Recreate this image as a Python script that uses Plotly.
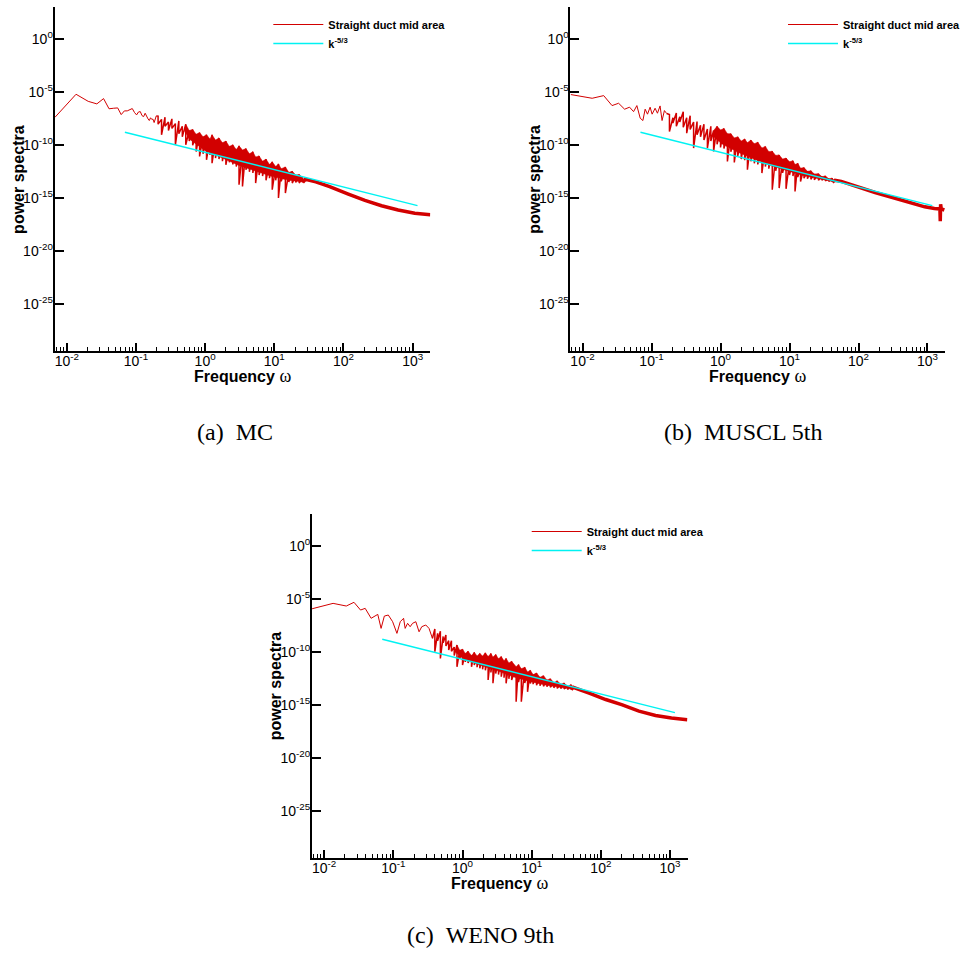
import plotly.graph_objects as go

# ---------------- axis ticks ----------------
freq_tick_vals = [1e-2, 1e-1, 1e0, 1e1, 1e2, 1e3]
freq_tick_text = ["10<sup>-2</sup>", "10<sup>-1</sup>", "10<sup>0</sup>",
                  "10<sup>1</sup>", "10<sup>2</sup>", "10<sup>3</sup>"]
power_tick_vals = [1e0, 1e-5, 1e-10, 1e-15, 1e-20, 1e-25]
power_tick_text = ["10<sup>0</sup>", "10<sup>-5</sup>", "10<sup>-10</sup>",
                   "10<sup>-15</sup>", "10<sup>-20</sup>", "10<sup>-25</sup>"]

series_name = "Straight duct mid area"
reference_name = "k<sup>-5/3</sup>"
x_title = '<b>Frequency</b> <span style="font-family:Liberation Serif;font-size:18px">ω</span>'
y_title = "<b>power spectra</b>"
captions = ["(a)\u2002MC", "(b)\u2002MUSCL 5th", "(c)\u2002WENO 9th"]

# k^-5/3 reference line (log10 of frequency / power at its two ends)
kolmogorov_log_freq = [-1.16, 3.07]
kolmogorov_log_power = [-8.76, -15.68]

# ---------------- (a) MC : log10 values ----------------
mc_head_log_freq = [-2.17, -1.866, -1.69, -1.565, -1.468, -1.389, -1.322, -1.264, -1.213, -1.167,
                    -1.126, -1.088, -1.053, -1.021, -0.991, -0.963, -0.937, -0.912, -0.889, -0.867,
                    -0.846, -0.826, -0.807, -0.789, -0.771, -0.754, -0.737, -0.721, -0.706]
mc_head_log_power = [-7.35, -5.18, -5.85, -6.09, -5.59, -6.55, -6.5, -6.47, -7.1, -6.75,
                     -6.75, -6.6, -6.53, -6.9, -7.13, -6.85, -6.82, -7.2, -7.29, -6.97,
                     -7.3, -7.5, -7.66, -7.4, -7.55, -7.53, -7.85, -7.5, -7.22]
mc_band_log_freq = [-0.68, -0.63, -0.58, -0.53, -0.48, -0.43, -0.38, -0.33, -0.28, -0.23,
                    -0.18, -0.13, -0.08, -0.03, 0.02, 0.07, 0.10, 0.15, 0.20, 0.25,
                    0.30, 0.35, 0.40, 0.45, 0.49, 0.54, 0.59, 0.64, 0.69, 0.73,
                    0.78, 0.83, 0.88, 0.93, 0.97, 1.02, 1.06, 1.10, 1.16, 1.21,
                    1.26, 1.31, 1.36, 1.41]
mc_band_log_high = [-7.25, -7.55, -7.35, -7.8, -7.5, -7.95, -7.7, -8.2, -8.0, -8.6,
                    -8.5, -8.95, -8.8, -9.2, -9.0, -9.4, -9.0, -9.5, -9.3, -9.75,
                    -9.6, -10.1, -9.95, -10.4, -10.05, -10.45, -10.3, -10.8, -10.6, -11.1,
                    -11.0, -11.5, -11.3, -11.8, -11.55, -12.0, -11.75, -12.2, -12.05, -12.55,
                    -12.45, -12.8, -12.75, -13.05]
mc_band_log_low = [-8.0, -9.0, -8.2, -8.6, -8.4, -9.95, -8.9, -9.2, -9.95, -9.6,
                   -10.0, -10.58, -11.05, -10.8, -11.37, -10.9, -11.68, -11.2, -11.3, -11.5,
                   -11.84, -11.6, -11.8, -12.0, -13.72, -13.88, -12.3, -12.5, -12.6, -13.56,
                   -12.8, -12.9, -13.3, -13.1, -14.19, -13.3, -14.97, -13.4, -14.5, -13.45,
                   -13.56, -13.5, -13.55, -13.5]
mc_core_log_freq = [-0.3, -0.23, 0.0, 0.25, 0.49, 0.73, 0.97, 1.21, 1.41]
mc_core_log_low = [-8.6, -9.4, -10.5, -11.2, -11.9, -12.45, -12.95, -13.3, -13.45]
mc_tail_log_freq = [1.45, 1.6, 1.8, 2.07, 2.31, 2.55, 2.79, 3.03, 3.255]
mc_tail_log_power = [-13.2, -13.45, -13.9, -14.6, -15.2, -15.7, -16.1, -16.4, -16.55]

# ---------------- (b) MUSCL 5th ----------------
muscl_head_log_freq = [-2.17, -1.86, -1.693, -1.572, -1.477, -1.39, -1.318, -1.26, -1.212, -1.164,
                       -1.125, -1.092, -1.058, -1.02, -0.991, -0.948, -0.914, -0.876, -0.847, -0.813,
                       -0.78]
muscl_head_log_power = [-5.21, -5.56, -5.31, -6.25, -6.03, -6.59, -6.4, -6.82, -6.25, -7.44,
                        -7.66, -6.59, -7.06, -6.4, -7.06, -6.5, -6.97, -6.28, -7.66, -6.72,
                        -7.0]
muscl_band_log_freq = [-0.74, -0.69, -0.64, -0.59, -0.54, -0.49, -0.44, -0.39, -0.34, -0.29,
                       -0.24, -0.19, -0.14, -0.10, -0.05, 0.0, 0.05, 0.10, 0.15, 0.20,
                       0.25, 0.30, 0.35, 0.39, 0.44, 0.49, 0.54, 0.60, 0.65, 0.70,
                       0.75, 0.80, 0.85, 0.90, 0.95, 1.00, 1.05, 1.08, 1.12, 1.16,
                       1.21, 1.26, 1.31, 1.36, 1.42, 1.47, 1.52, 1.57, 1.62]
muscl_band_log_high = [-7.1, -7.4, -6.95, -7.3, -6.82, -7.4, -7.2, -7.8, -7.76, -8.1,
                       -8.0, -8.45, -8.2, -8.6, -8.2, -8.55, -8.4, -8.9, -8.9, -9.3,
                       -9.2, -9.6, -9.4, -9.75, -9.5, -9.85, -9.7, -10.25, -10.1, -10.6,
                       -10.55, -10.95, -10.9, -11.3, -11.2, -11.55, -11.45, -11.8, -11.7, -12.15,
                       -12.1, -12.45, -12.4, -12.7, -12.68, -12.95, -12.9, -13.15, -13.1]
muscl_band_log_low = [-8.7, -7.9, -8.2, -7.8, -8.3, -8.85, -8.5, -10.26, -9.0, -9.2,
                      -9.5, -10.26, -9.6, -10.58, -9.9, -10.2, -10.3, -11.52, -10.6, -11.62,
                      -11.0, -11.3, -11.4, -12.3, -11.5, -11.7, -11.8, -12.62, -12.0, -12.2,
                      -14.19, -12.4, -14.03, -12.6, -14.1, -12.8, -12.9, -14.35, -13.0, -13.41,
                      -13.1, -13.15, -13.2, -13.25, -13.3, -13.3, -13.35, -13.4, -13.45]
muscl_core_log_freq = [-0.1, 0.03, 0.27, 0.51, 0.75, 0.99, 1.23, 1.47, 1.62]
muscl_core_log_low = [-9.2, -9.9, -10.7, -11.35, -11.95, -12.45, -12.9, -13.2, -13.4]
muscl_tail_log_freq = [1.66, 1.75, 2.0, 2.24, 2.48, 2.72, 2.96, 3.1, 3.18, 3.185, 3.19, 3.2, 3.244]
muscl_tail_log_power = [-13.3, -13.4, -13.95, -14.45, -14.9, -15.35, -15.8, -15.95, -16.0,
                        -17.15, -15.55, -16.0, -16.1]

# ---------------- (c) WENO 9th ----------------
weno_head_log_freq = [-2.175, -1.871, -1.68, -1.569, -1.474, -1.407, -1.321, -1.225, -1.177, -1.13,
                      -1.073, -1.01, -0.948, -0.9, -0.852, -0.829, -0.794, -0.757, -0.722, -0.675,
                      -0.628, -0.589, -0.531, -0.484, -0.435]
weno_head_log_power = [-5.89, -5.38, -5.63, -5.28, -6.01, -5.85, -6.79, -6.42, -7.74, -6.58,
                       -6.48, -7.11, -8.21, -7.11, -6.79, -7.74, -7.26, -7.58, -7.26, -7.11,
                       -8.06, -7.58, -7.42, -7.74, -8.68]
weno_band_log_freq = [-0.40, -0.36, -0.32, -0.28, -0.24, -0.20, -0.16, -0.12, -0.08, -0.04,
                      0.00, 0.04, 0.08, 0.13, 0.17, 0.21, 0.25, 0.29, 0.33, 0.37,
                      0.41, 0.44, 0.48, 0.52, 0.56, 0.60, 0.63, 0.67, 0.71, 0.775,
                      0.81, 0.85, 0.90, 0.94, 0.98, 1.02, 1.07, 1.12, 1.17, 1.22,
                      1.27, 1.32, 1.37, 1.42, 1.47, 1.52, 1.57]
weno_band_log_high = [-7.8, -8.2, -8.0, -8.5, -8.37, -8.9, -8.9, -9.5, -9.31, -9.8,
                      -9.7, -10.1, -9.9, -10.3, -10.0, -10.35, -10.1, -10.35, -10.05, -10.4,
                      -10.1, -10.45, -10.2, -10.6, -10.4, -10.8, -10.57, -11.0, -10.85, -11.35,
                      -11.15, -11.55, -11.4, -11.85, -11.7, -12.1, -11.95, -12.35, -12.2, -12.6,
                      -12.5, -12.85, -12.7, -13.0, -12.9, -13.2, -13.05]
weno_band_log_low = [-9.94, -8.9, -10.57, -9.1, -9.4, -9.78, -9.9, -10.3, -11.36, -10.6,
                     -11.2, -10.9, -11.0, -11.36, -11.2, -11.4, -11.5, -11.6, -11.7, -12.61,
                     -11.9, -12.92, -12.0, -12.1, -12.3, -12.4, -12.92, -12.5, -12.6, -14.66,
                     -12.8, -14.66, -12.9, -13.72, -12.95, -13.0, -13.1, -13.15, -13.2, -13.25,
                     -13.3, -13.35, -13.4, -13.42, -13.45, -13.5, -13.52]
weno_core_log_freq = [-0.1, 0.01, 0.25, 0.49, 0.73, 0.97, 1.21, 1.45, 1.57]
weno_core_log_low = [-10.0, -10.6, -11.2, -11.7, -12.3, -12.75, -13.1, -13.35, -13.45]
weno_tail_log_freq = [1.6, 1.83, 2.07, 2.31, 2.55, 2.79, 3.02, 3.248]
weno_tail_log_power = [-13.3, -13.85, -14.45, -14.95, -15.55, -15.95, -16.2, -16.35]

# ---------------- styling / layout constants ----------------
RED = "#d20000"
CYAN = "#00f2f2"
FONT = "Liberation Sans, Arial, Helvetica, sans-serif"
SERIF = "Liberation Serif, Times New Roman, serif"
W, H = 966, 954


def px_x(p):
    return p / W


def px_y(p):
    return 1 - p / H


panels = [
    dict(head=(mc_head_log_freq, mc_head_log_power),
         band=(mc_band_log_freq, mc_band_log_high, mc_band_log_low),
         core=(mc_core_log_freq, mc_core_log_low),
         tail=(mc_tail_log_freq, mc_tail_log_power),
         xdom=(55, 433), ydom=(7, 351), leg=(270, 10), cap=(236, 432)),
    dict(head=(muscl_head_log_freq, muscl_head_log_power),
         band=(muscl_band_log_freq, muscl_band_log_high, muscl_band_log_low),
         core=(muscl_core_log_freq, muscl_core_log_low),
         tail=(muscl_tail_log_freq, muscl_tail_log_power),
         xdom=(574, 951), ydom=(7, 351), leg=(788, 10), cap=(748, 432)),
    dict(head=(weno_head_log_freq, weno_head_log_power),
         band=(weno_band_log_freq, weno_band_log_high, weno_band_log_low),
         core=(weno_core_log_freq, weno_core_log_low),
         tail=(weno_tail_log_freq, weno_tail_log_power),
         xdom=(314, 692), ydom=(514, 858), leg=(530, 517), cap=(483, 935)),
]

minor_vals = [m * 10.0 ** e for e in range(-3, 4) for m in range(2, 10)]

fig = go.Figure()
layout = dict(width=W, height=H, margin=dict(l=0, r=0, t=0, b=0),
              plot_bgcolor="white", paper_bgcolor="white",
              font=dict(family=FONT, color="black"), annotations=[])

for i, p in enumerate(panels, start=1):
    sx = "" if i == 1 else str(i)
    xref, yref = "x" + sx, "y" + sx
    leg = "legend" + sx

    hx = [10 ** v for v in p["head"][0]]
    hy = [10 ** v for v in p["head"][1]]

    bw, bhi, blo = p["band"]
    bx, by = [hx[-1]], [hy[-1]]
    for w, hi, lo in zip(bw, bhi, blo):
        bx += [10 ** w, 10 ** w]
        by += [10 ** hi, 10 ** lo]

    cw, clo = p["core"]
    upper = [(w, hi) for w, hi in zip(bw, bhi) if cw[0] <= w <= cw[-1]]
    fx = [10 ** w for w, _ in upper] + [10 ** w for w in reversed(cw)]
    fy = [10 ** hi for _, hi in upper] + [10 ** v for v in reversed(clo)]

    tx = [bx[-1]] + [10 ** v for v in p["tail"][0]]
    ty = [by[-1]] + [10 ** v for v in p["tail"][1]]

    fig.add_trace(go.Scatter(x=fx, y=fy, mode="lines", fill="toself", fillcolor=RED,
                             line=dict(color=RED, width=0.5), xaxis=xref, yaxis=yref,
                             legend=leg, showlegend=False, hoverinfo="skip"))
    fig.add_trace(go.Scatter(x=bx, y=by, mode="lines", name=series_name,
                             line=dict(color=RED, width=1.5), xaxis=xref, yaxis=yref,
                             legend=leg, showlegend=False))
    fig.add_trace(go.Scatter(x=tx, y=ty, mode="lines", name=series_name,
                             line=dict(color=RED, width=3.5), xaxis=xref, yaxis=yref,
                             legend=leg, showlegend=False))
    fig.add_trace(go.Scatter(x=hx, y=hy, mode="lines", name=series_name,
                             line=dict(color=RED, width=1), xaxis=xref, yaxis=yref,
                             legend=leg, showlegend=True))
    fig.add_trace(go.Scatter(x=[10 ** v for v in kolmogorov_log_freq],
                             y=[10 ** v for v in kolmogorov_log_power],
                             mode="lines", name=reference_name,
                             line=dict(color=CYAN, width=1.4), xaxis=xref, yaxis=yref,
                             legend=leg, showlegend=True))

    x0, x1 = p["xdom"]
    y0, y1 = p["ydom"]
    layout["xaxis" + sx] = dict(
        domain=[px_x(x0), px_x(x1)], anchor=yref,
        type="log", range=[-2.175, 3.255],
        showline=True, linecolor="black", linewidth=2, mirror=False,
        ticks="inside", ticklen=8, tickwidth=1.5, tickcolor="black",
        tickmode="array", tickvals=freq_tick_vals, ticktext=freq_tick_text,
        tickfont=dict(size=14, family=FONT), ticklabelstandoff=-4,
        minor=dict(tickmode="array", tickvals=minor_vals, ticks="inside",
                   ticklen=4, tickwidth=1, tickcolor="black", showgrid=False),
        showgrid=False, zeroline=False,
    )
    layout["yaxis" + sx] = dict(
        domain=[px_y(y1), px_y(y0)], anchor=xref,
        type="log", range=[-29.4, 3.05],
        showline=True, linecolor="black", linewidth=2, mirror=False,
        ticks="inside", ticklen=9, tickwidth=1.5, tickcolor="black",
        tickmode="array", tickvals=power_tick_vals, ticktext=power_tick_text,
        tickfont=dict(size=14, family=FONT), ticklabelstandoff=-3,
        showgrid=False, zeroline=False,
    )
    layout[leg] = dict(x=px_x(p["leg"][0]), y=px_y(p["leg"][1]),
                       xanchor="left", yanchor="top",
                       bgcolor="rgba(0,0,0,0)", borderwidth=0,
                       font=dict(size=11, family=FONT, weight="bold"),
                       itemwidth=50, tracegroupgap=0)
    # axis titles
    layout["annotations"].append(dict(
        text=x_title, x=px_x((x0 + x1) / 2), y=px_y(y1 + 25),
        xref="paper", yref="paper", xanchor="center", yanchor="middle",
        showarrow=False, font=dict(size=16, family=FONT)))
    layout["annotations"].append(dict(
        text=y_title, x=px_x(x0 - 37), y=px_y((y0 + y1) / 2), textangle=-90,
        xref="paper", yref="paper", xanchor="center", yanchor="middle",
        showarrow=False, font=dict(size=16, family=FONT)))
    # sub-figure caption
    layout["annotations"].append(dict(
        text=captions[i - 1], x=px_x(p["cap"][0]), y=px_y(p["cap"][1]),
        xref="paper", yref="paper", xanchor="center", yanchor="middle",
        showarrow=False, font=dict(size=24, family=SERIF)))

fig.update_layout(**layout)
fig.write_html("out.html", config={"displayModeBar": False},
               post_script="document.body.style.margin='0px';")
